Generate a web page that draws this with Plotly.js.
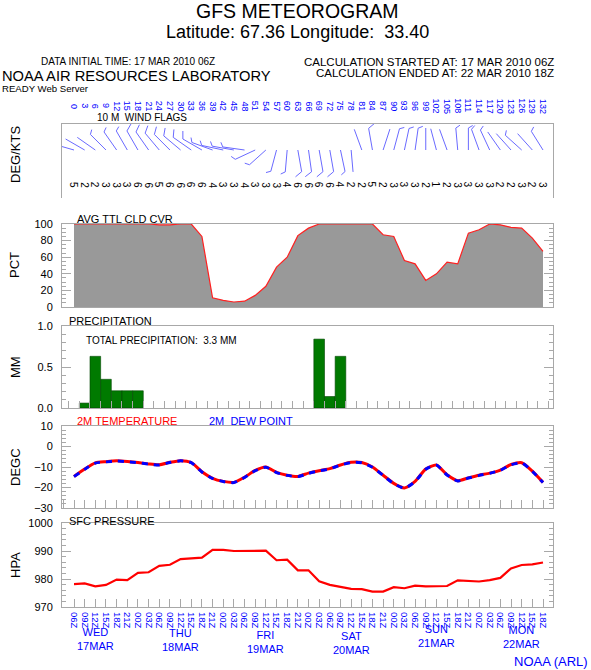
<!DOCTYPE html>
<html><head><meta charset="utf-8">
<script src="https://cdn.plot.ly/plotly-3.0.1.min.js"></script>
<style>html,body{margin:0;padding:0;background:#fff}#chart{width:591px;height:670px}</style>
</head><body><div id="chart"></div>
<script>
// ---------- DATA ----------
const hours = [0,3,6,9,12,15,18,21,24,27,30,33,36,39,42,45,48,51,54,57,60,63,66,69,72,75,78,81,84,87,90,93,96,99,102,105,108,111,114,117,120,123,126,129,132];
const hourLabels = ["0","3","6","9","12","15","18","21","24","27","30","33","36","39","42","45","48","51","54","57","60","63","66","69","72","75","78","81","84","87","90","93","96","99","102","105","108","111","114","117","120","123","126","129","132"];
const timeLabels = ["06Z","09Z","12Z","15Z","18Z","21Z","00Z","03Z","06Z","09Z","12Z","15Z","18Z","21Z","00Z","03Z","06Z","09Z","12Z","15Z","18Z","21Z","00Z","03Z","06Z","09Z","12Z","15Z","18Z","21Z","00Z","03Z","06Z","09Z","12Z","15Z","18Z","21Z","00Z","03Z","06Z","09Z","12Z","15Z","18Z"];
const dayHours = [6,30,54,78,102,126];
const dayLabels = ["WED<br>17MAR","THU<br>18MAR","FRI<br>19MAR","SAT<br>20MAR","SUN<br>21MAR","MON<br>22MAR"];

const windDir = [286,300,305,315,325,330,330,325,320,315,310,305,300,290,282,280,278,245,228,195,185,170,172,170,170,168,175,340,350,18,15,12,8,0,345,340,355,0,340,335,325,318,312,318,328];
const windSpd = [5,2,2,3,3,3,6,6,5,6,6,6,6,4,3,3,4,3,3,3,4,6,6,6,6,4,2,2,5,2,3,3,3,2,1,2,3,3,3,3,2,2,3,2,3];

const cloudCover = [100,100,100,100,100,100,100,100,99,99,100,100,85,11,8,6,7,14,25,48,60,86,95,100,100,100,100,100,100,87,85,56,52,32,40,54,52,89,93,100,99,96,95,83,67];

const precipHours = [3,6,9,12,15,18,69,72,75];
const precipMM = [0.06,0.63,0.35,0.21,0.21,0.21,0.84,0.14,0.63];

const temp2m = [-14.6,-11,-8,-7.4,-7,-7.3,-7.8,-8.5,-8.9,-7.7,-6.9,-7.8,-12.3,-15.5,-17,-17.5,-15,-11.7,-10,-12.6,-14,-14.6,-13,-11.8,-10.8,-9,-7.7,-7.8,-10,-14,-18,-20.2,-17,-11,-9,-13.8,-16.7,-15.3,-14,-13,-11.5,-8.8,-7.9,-12,-17.5];
const dew2m  = [-14.7,-11.1,-8.1,-7.5,-7.1,-7.4,-7.9,-8.6,-9.0,-7.8,-7.0,-7.9,-12.4,-15.6,-17.1,-17.6,-15.1,-11.8,-10.1,-12.7,-14.1,-14.7,-13.1,-11.9,-10.9,-9.1,-7.8,-7.9,-10.1,-14.1,-18.1,-20.3,-17.1,-11.1,-9.1,-13.9,-16.8,-15.4,-14.1,-13.1,-11.6,-8.9,-8.0,-12.1,-17.6];

const pressure = [978.2,978.4,977.4,977.9,979.8,979.6,982.2,982.4,984.7,985.1,987.1,987.3,987.6,990.4,990.4,990,990,990,990.1,986.7,986.9,983.1,983.1,979.2,977.9,977.2,976.5,976.4,975.5,975.5,977.1,976.7,977.6,977.4,977.4,977.5,979.5,979.4,979.1,979.6,980.4,983.8,985,985.2,985.9];

// ---------- LAYOUT HELPERS ----------
const W = 591, H = 670, L = 62, R = 553;
const PXH = (543 - 74) / 132;            // pixels per hour
const xr = [-(74 - L) / PXH, 132 + (R - 543) / PXH];
const px = p => (p - L) / (R - L);
const py = p => 1 - p / H;
const dom = (top, bot) => [py(bot), py(top)];
const gray = '#a8a8a8';
const FONT = 'Liberation Sans, Arial, sans-serif';
const BLUE = '#0000ff';

// wind panel in pixel units vertically
const WT = 124, WB = 198, WBASE = 150;
const shaftLen = 22;
const bx = [], by = [];
for (let i = 0; i < hours.length; i++) {
  const d = windDir[i] * Math.PI / 180;
  const x0 = hours[i], y0 = WB - WBASE;
  const x1 = x0 + shaftLen * Math.sin(d) / PXH, y1 = y0 + shaftLen * Math.cos(d);
  bx.push(x0, x1); by.push(y0, y1);
  const fl = windSpd[i] >= 5 ? 8 : (windSpd[i] >= 3 ? 5 : 0);
  if (fl > 0) {
    const f = (windDir[i] + 60) * Math.PI / 180;
    bx.push(x1 + fl * Math.sin(f) / PXH); by.push(y1 + fl * Math.cos(f));
  }
  bx.push(null); by.push(null);
}

const traces = [
  {x: bx, y: by, xaxis: 'x', yaxis: 'y', mode: 'lines', line: {color: '#6a6aff', width: 1}, hoverinfo: 'skip'},
  {x: hours, y: cloudCover, xaxis: 'x2', yaxis: 'y2', mode: 'lines', fill: 'tozeroy', fillcolor: '#999999', line: {color: '#ff2020', width: 1.2}},
  {x: precipHours, y: precipMM, xaxis: 'x3', yaxis: 'y3', type: 'bar', width: 3, marker: {color: '#007a00', line: {color: '#004400', width: 0.6}}},
  {x: hours, y: temp2m, xaxis: 'x4', yaxis: 'y4', mode: 'lines', line: {color: '#ff0000', width: 3, shape: 'spline', smoothing: 0.6}},
  {x: hours, y: dew2m, xaxis: 'x4', yaxis: 'y4', mode: 'lines', line: {color: '#0000ff', width: 3, dash: '6px,6px', shape: 'spline', smoothing: 0.6}},
  {x: hours, y: pressure, xaxis: 'x5', yaxis: 'y5', mode: 'lines', line: {color: '#ff0000', width: 2.2}}
];

const xbase = {range: xr, domain: [0, 1], showgrid: false, zeroline: false, showline: true, linecolor: gray, linewidth: 1, mirror: true, showticklabels: false, ticks: '', fixedrange: true};
const ybase = {showgrid: false, zeroline: false, showline: true, linecolor: gray, linewidth: 1, mirror: 'ticks', ticks: 'inside', ticklen: 9, tickcolor: gray, tickwidth: 1,
  tickfont: {family: FONT, size: 11, color: '#000'}, ticklabelstandoff: 6, fixedrange: true};

const layout = {
  width: W, height: H, showlegend: false, paper_bgcolor: '#fff', plot_bgcolor: '#fff',
  margin: {l: L, r: W - R, t: 0, b: 0, autoexpand: false},
  font: {family: FONT},
  xaxis: Object.assign({}, xbase, {anchor: 'y', side: 'top', mirror: false}),
  yaxis: Object.assign({}, ybase, {domain: dom(WT, WB), range: [0, WB - WT], ticks: '', showticklabels: false, mirror: true, anchor: 'x'}),
  xaxis2: Object.assign({}, xbase, {anchor: 'y2'}),
  yaxis2: Object.assign({}, ybase, {domain: dom(224, 307), range: [0, 100], tickvals: [0,20,40,60,80,100], minor: {ticks: 'inside', ticklen: 4, dtick: 5, tickcolor: gray}, anchor: 'x2'}),
  xaxis3: Object.assign({}, xbase, {anchor: 'y3', ticks: 'inside', ticklen: 7, tickcolor: gray, tick0: -1.5, dtick: 3}),
  yaxis3: Object.assign({}, ybase, {domain: dom(326, 408), range: [0, 1], tickvals: [0, 0.5, 1], ticktext: ['0.0','0.5','1.0'], minor: {ticks: 'inside', ticklen: 4, dtick: 0.1, tickcolor: gray}, anchor: 'x3'}),
  xaxis4: Object.assign({}, xbase, {anchor: 'y4', ticks: 'inside', ticklen: 8, tickcolor: gray, tick0: 0, dtick: 3}),
  yaxis4: Object.assign({}, ybase, {domain: dom(426, 508), range: [-30, 10], tickvals: [-30,-20,-10,0,10], minor: {ticks: 'inside', ticklen: 4, dtick: 2, tickcolor: gray}, anchor: 'x4'}),
  xaxis5: Object.assign({}, xbase, {anchor: 'y5', ticks: 'inside', ticklen: 8, tickcolor: gray, tickvals: hours, ticktext: timeLabels, showticklabels: true, tickangle: 90,
    tickfont: {family: FONT, size: 9.5, color: BLUE}, ticklabelstandoff: 2}),
  yaxis5: Object.assign({}, ybase, {domain: dom(523, 607), range: [970, 1000], tickvals: [970,980,990,1000], ticktext: ['970','980','990','1000'], minor: {ticks: 'inside', ticklen: 4, dtick: 2, tickcolor: gray}, anchor: 'x5'}),
  annotations: [],
  bargap: 0
};

const A = layout.annotations;
function txt(text, x, y, o) {
  A.push(Object.assign({text: text, x: px(x), y: py(y), xref: 'paper', yref: 'paper', showarrow: false, xanchor: 'left', yanchor: 'middle',
    font: {family: FONT, size: 10, color: '#000'}}, o || {}));
}
txt('GFS METEOROGRAM', 297, 11, {xanchor: 'center', font: {family: FONT, size: 19.5, color: '#000'}});
txt('Latitude: 67.36 Longitude:\u00a0\u00a033.40', 297, 32, {xanchor: 'center', font: {family: FONT, size: 18, color: '#000'}});
txt('DATA INITIAL TIME: 17 MAR 2010 06Z', 128, 62, {xanchor: 'center'});
txt('CALCULATION STARTED AT: 17 MAR 2010 06Z', 556, 62, {xanchor: 'right', font: {family: FONT, size: 11.5, color: '#000'}});
txt('CALCULATION ENDED AT: 22 MAR 2010 18Z', 556, 73, {xanchor: 'right', font: {family: FONT, size: 11.5, color: '#000'}});
txt('NOAA AIR RESOURCES LABORATORY', 0, 76, {font: {family: FONT, size: 14.7, color: '#000'}});
txt('READY Web Server', 0, 88, {font: {family: FONT, size: 9.6, color: '#000'}});
txt('10 M\u00a0\u00a0WIND FLAGS', 95, 118);
txt('AVG TTL CLD CVR', 75, 219, {font: {family: FONT, size: 11, color: '#000'}});
txt('PRECIPITATION', 67, 321, {font: {family: FONT, size: 11, color: '#000'}});
txt('TOTAL PRECIPITATION:\u00a0\u00a03.3 MM', 84, 340);
txt('2M TEMPERATURE', 75, 421, {font: {family: FONT, size: 11, color: '#ff0000'}});
txt('2M\u00a0\u00a0DEW POINT', 207, 421, {font: {family: FONT, size: 11, color: BLUE}});
txt('SFC PRESSURE', 67, 521, {font: {family: FONT, size: 11, color: '#000'}});
txt('NOAA (ARL)', 590, 661, {xanchor: 'right', font: {family: FONT, size: 13, color: BLUE}});
const ytitles = [['DEG/KTS', 155], ['PCT', 265], ['MM', 367], ['DEGC', 467], ['HPA', 565]];
ytitles.forEach(t => txt(t[0], 15, t[1], {xanchor: 'center', textangle: -90, font: {family: FONT, size: 13, color: '#000'}}));

// top forecast-hour labels and wind speeds (positioned via x axis data coords)
hours.forEach((h, i) => {
  A.push({text: hourLabels[i], x: h, xref: 'x', y: py(106), yref: 'paper', showarrow: false, textangle: 90, xanchor: 'center', yanchor: 'middle',
    font: {family: FONT, size: 9, color: BLUE}});
  A.push({text: String(windSpd[i]), x: h, xref: 'x', y: py(185), yref: 'paper', showarrow: false, textangle: 90, xanchor: 'center', yanchor: 'middle',
    font: {family: FONT, size: 10, color: '#000'}});
});
const dayY = [639, 640, 642, 643, 636, 637];
dayHours.forEach((h, i) => {
  A.push({text: dayLabels[i], x: h, xref: 'x5', y: py(dayY[i]), yref: 'paper', showarrow: false, xanchor: 'center', yanchor: 'middle',
    font: {family: FONT, size: 11, color: BLUE}});
});

Plotly.newPlot('chart', traces, layout, {staticPlot: true, displayModeBar: false});
</script></body></html>
